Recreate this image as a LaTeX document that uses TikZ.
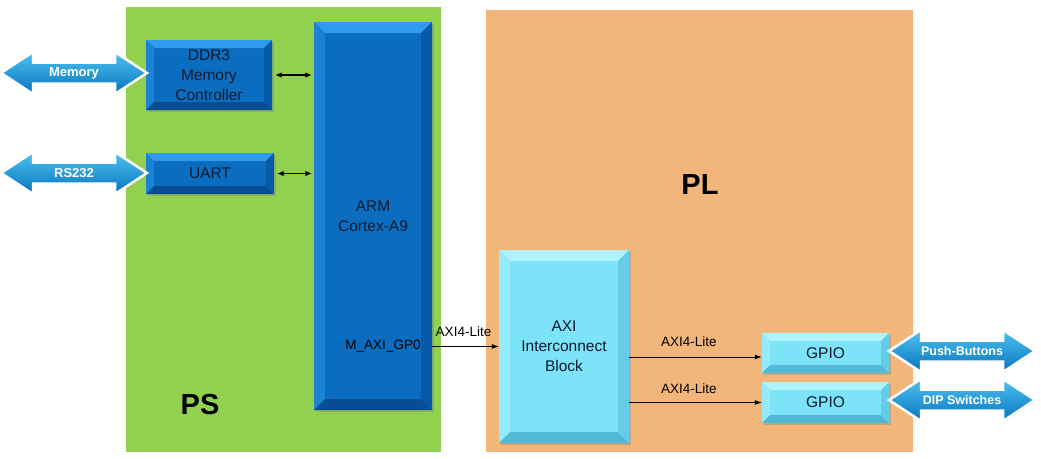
\documentclass[tikz,border=0pt]{standalone}
\usepackage{fontspec}
\setmainfont{Liberation Sans}
\usetikzlibrary{shadows,arrows.meta}
\definecolor{psgreen}{HTML}{92D050}
\definecolor{plorange}{HTML}{F3B67A}
\definecolor{bface}{HTML}{0B6DBF}
\definecolor{btop}{HTML}{2E9BEE}
\definecolor{bleft}{HTML}{1C82D6}
\definecolor{bbot}{HTML}{064E91}
\definecolor{bright}{HTML}{0859A8}
\definecolor{cface}{HTML}{7CE3F8}
\definecolor{ctop}{HTML}{B0F2FE}
\definecolor{cleft}{HTML}{95EAFB}
\definecolor{cbot}{HTML}{4FB9D6}
\definecolor{cright}{HTML}{63CCE6}
\definecolor{txt}{HTML}{0E1A2E}
\definecolor{arrtop}{HTML}{4CC2F2}
\definecolor{arrbot}{HTML}{0A74BC}
\tikzset{
  bevel/.style n args={6}{fill=#1, path picture={
    \fill[#2] (path picture bounding box.north west) -- (path picture bounding box.north east)
      -- ([xshift=-#6,yshift=-#6]path picture bounding box.north east)
      -- ([xshift=#6,yshift=-#6]path picture bounding box.north west) -- cycle;
    \fill[#3] (path picture bounding box.north west) -- ([xshift=#6,yshift=-#6]path picture bounding box.north west)
      -- ([xshift=#6,yshift=#6]path picture bounding box.south west) -- (path picture bounding box.south west) -- cycle;
    \fill[#4] (path picture bounding box.south west) -- (path picture bounding box.south east)
      -- ([xshift=-#6,yshift=#6]path picture bounding box.south east)
      -- ([xshift=#6,yshift=#6]path picture bounding box.south west) -- cycle;
    \fill[#5] (path picture bounding box.north east) -- (path picture bounding box.south east)
      -- ([xshift=-#6,yshift=#6]path picture bounding box.south east)
      -- ([xshift=-#6,yshift=-#6]path picture bounding box.north east) -- cycle;
  }},
  boxtext/.style={text=txt, align=center, font=\fontsize{15.5}{20}\selectfont, inner sep=0pt,
    drop shadow={opacity=0.35, shadow xshift=2pt, shadow yshift=-2pt}},
  dbox/.style={boxtext, bevel={bface}{btop}{bleft}{bbot}{bright}{8pt}},
  cbox/.style={boxtext, bevel={cface}{ctop}{cleft}{cbot}{cright}{8pt}},
  lbl/.style={font=\fontsize{13.5}{15}\selectfont, text=black, inner sep=0pt},
  arr/.style={-{Latex[length=7pt,width=5pt]}, line width=0.8pt},
  darr/.style={{Latex[length=6.5pt,width=5.5pt]}-{Latex[length=6.5pt,width=5.5pt]}, line width=1.1pt},
  arrowbody/.style={draw=white, line width=2.5pt, top color=arrtop, bottom color=arrbot,
    drop shadow={opacity=0.35, shadow xshift=1pt, shadow yshift=-1pt}},
  arrowtext/.style={text=white, inner sep=0pt},
  bigtext/.style={font=\bfseries\fontsize{29}{32}\selectfont, text=black, inner sep=0pt}
}
\newcommand{\dblarrow}[5]{%
  \begin{scope}[shift={(#2,#3)}]
    \path[arrowbody] (-73,0) -- (-41,-21) -- (-41,-10.5) -- (41,-10.5) -- (41,-21) -- (73,0)
      -- (41,21) -- (41,10.5) -- (-41,10.5) -- (-41,21) -- cycle;
  \end{scope}
  \node[arrowtext, font=\bfseries\fontsize{#5}{14}\selectfont] (#1) at (#2,#3) {#4};
}
\begin{document}
\begin{tikzpicture}[x=1pt,y=-1pt]
\path[use as bounding box, fill=white] (0,0) rectangle (1041,458);
\fill[psgreen] (126,7) rectangle (441,452);
\fill[plorange] (486,10) rectangle (913,452);

\node[bigtext] (pl) at (700,185) {PL};
\node[bigtext] (ps) at (200,405) {PS};

\node[dbox, minimum width=126pt, minimum height=70pt] (ddr) at (209,75) {DDR3\\Memory\\Controller};
\node[dbox, minimum width=128pt, minimum height=41pt] (uart) at (210,173.5) {UART};
\node[dbox, bevel={bface}{btop}{bleft}{bbot}{bright}{11pt}, minimum width=118pt, minimum height=388pt] (arm) at (373,216) {ARM\\Cortex-A9};
\node[cbox, bevel={cface}{ctop}{cleft}{cbot}{cright}{11pt}, minimum width=130pt, minimum height=193pt] (axi) at (564,346.5) {AXI\\Interconnect\\Block};
\node[cbox, minimum width=127pt, minimum height=40pt] (gpio1) at (825.5,353) {GPIO};
\node[cbox, minimum width=127pt, minimum height=41pt] (gpio2) at (825.5,402.5) {GPIO};

\node[lbl] (mgp) at (383,346) {M\_AXI\_GP0};

\draw[darr] ([xshift=3pt]ddr.east) -- ([xshift=-2pt]ddr.east -| arm.west);
\draw[darr] ([xshift=3pt]uart.east) -- ([xshift=-2pt]uart.east -| arm.west);

\coordinate (m0) at (arm.east |- axi.west);
\draw[arr] (m0) -- (axi.west) node[lbl, pos=0.47, above=9pt] (l0) {AXI4-Lite};

\coordinate (g1) at (axi.east |- gpio1.west);
\draw[arr] ([yshift=-4pt]g1) -- ([yshift=-4pt]gpio1.west) node[lbl, pos=0.45, above=10pt] (l1) {AXI4-Lite};
\coordinate (g2) at (axi.east |- gpio2.west);
\draw[arr] (g2) -- (gpio2.west) node[lbl, pos=0.45, above=8pt] (l2) {AXI4-Lite};

\dblarrow{mem}{74}{73}{Memory}{13}
\dblarrow{rs}{74}{173}{RS232}{13}
\dblarrow{push}{962}{351}{Push-Buttons}{12.5}
\dblarrow{dip}{962}{400}{DIP Switches}{12.5}
\end{tikzpicture}
\end{document}
